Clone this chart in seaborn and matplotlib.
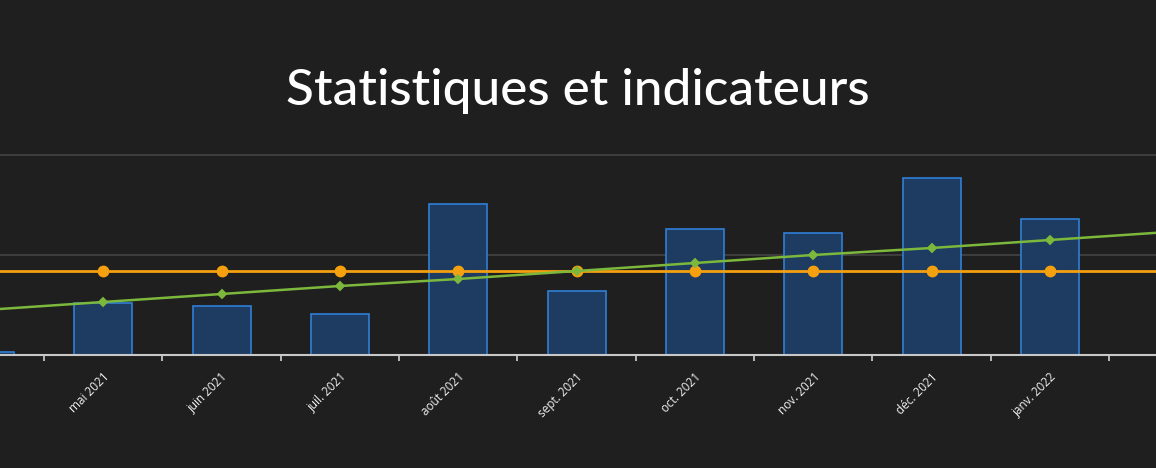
import matplotlib
matplotlib.use("Agg")
import matplotlib.pyplot as plt
import seaborn as sns
import numpy as np

months = ["avr. 2021", "mai 2021", "juin 2021", "juil. 2021", "août 2021", "sept. 2021",
          "oct. 2021", "nov. 2021", "déc. 2021", "janv. 2022", "févr. 2022"]
values = [0.03, 0.52, 0.49, 0.41, 1.51, 0.64, 1.26, 1.22, 1.77, 1.36, 0.0]
mean_line = [0.84, 0.84, 0.84, 0.84, 0.84, 0.84, 0.84, 0.84, 0.84, 0.84, 0.84]
trend_line = [0.45, 0.53, 0.61, 0.69, 0.76, 0.84, 0.92, 1.00, 1.07, 1.15, 1.23]
shown_labels = ["", "mai 2021", "juin 2021", "juil. 2021", "août 2021", "sept. 2021",
                "oct. 2021", "nov. 2021", "déc. 2021", "janv. 2022", ""]

BG = "#1f1f1f"
sns.set_theme(style="dark")
plt.rcParams['font.family'] = ['Open Sans', 'DejaVu Sans']

fig = plt.figure(figsize=(11.56, 4.68), dpi=100, facecolor=BG)
ax = fig.add_axes([0.0, (468 - 355) / 468, 1.0, 205 / 468])
ax.set_facecolor(BG)

sns.barplot(x=months, y=values, order=months, ax=ax, width=0.49,
            color="#1e3b62", edgecolor="#2f7fd6", linewidth=1.2, saturation=1, zorder=2)

sns.pointplot(x=months, y=mean_line, order=months, ax=ax, color="#f5a00f",
              markers="o", markersize=7, linewidth=2.0, zorder=4)
sns.pointplot(x=months, y=trend_line, order=months, ax=ax, color="#7cb83c",
              markers="D", markersize=4.5, linewidth=1.8, zorder=5)

ax.set_yticks([1, 2])
ax.set_yticklabels([])
ax.yaxis.grid(True, color="#3e3e3e", linewidth=1.4)
ax.xaxis.grid(False)
ax.tick_params(axis="y", length=0)

ax.set_xticks(np.arange(len(months)))
ax.set_xticklabels(shown_labels, rotation=45, ha="right", va="top",
                   rotation_mode="anchor", color="#f0f0f0", fontsize=8.5)
ax.tick_params(axis="x", which="major", length=0, pad=11)
ax.set_xticks(np.arange(len(months)) + 0.5, minor=True)
ax.tick_params(axis="x", which="minor", bottom=True, length=4, width=1.2,
               color="#d0d0d0", direction="out")

ax.set_xlim(0.128, 9.897)
ax.set_ylim(0, 2.05)

for s in ["top", "left", "right"]:
    ax.spines[s].set_visible(False)
ax.spines["bottom"].set_color("#c8c8c8")
ax.spines["bottom"].set_linewidth(1.5)
ax.spines["bottom"].set_zorder(6)
ax.set_xlabel("")
ax.set_ylabel("")

fig.text(0.5, 1 - 91 / 468, "Statistiques et indicateurs", ha="center", va="center",
         color="white", fontsize=37, fontweight="medium", family=["Lato", "DejaVu Sans"])

fig.savefig("out.png", dpi=100, facecolor=BG)
